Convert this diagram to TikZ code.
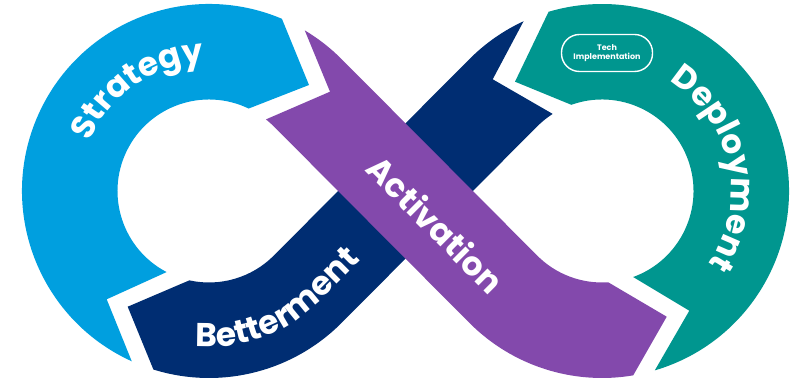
\documentclass[tikz,border=0pt]{standalone}
\usepackage{fontspec}
\setmainfont{Poppins}
\usetikzlibrary{decorations.text}

\definecolor{stratblue}{RGB}{0,159,223}
\definecolor{activpurple}{RGB}{131,73,172}
\definecolor{betternavy}{RGB}{0,45,114}
\definecolor{deploygreen}{RGB}{0,150,143}
\newcommand{\segfont}{\bfseries\fontsize{33}{33}\selectfont}

\begin{document}
\begin{tikzpicture}[x=1pt,y=1pt]
	\tikzset{seglabel/.style = {decorate, decoration={text along path, text align=center, text color=white, text={|\segfont|#1}}}}
	\tikzset{pill/.style = {draw=white, line width=1.4pt, rounded corners=18pt, minimum width=91pt, minimum height=37pt, inner sep=0pt, align=center, text=white, font=\bfseries\fontsize{8}{9.3}\selectfont}}
	
	\useasboundingbox (0,0) rectangle (800,379);
	\coordinate (L) at (209,188);
	\coordinate (R) at (602,188);
	
	% Betterment: top of right loop, down the diagonal, round the bottom of the left loop
	\fill[betternavy] ([shift={(114.8:187)}]R) arc[start angle=114.8, end angle=135, radius=187]
		-- ([shift={(315:91.5)}]L) arc[start angle=315, end angle=257.6, radius=91.5]
		-- (127.7,72.3)
		-- ([shift={(252.7:187)}]L) arc[start angle=252.7, end angle=315, radius=187]
		-- ([shift={(135:91.5)}]R) arc[start angle=135, end angle=122.6, radius=91.5]
		-- (492.7,299.7) -- cycle;
	
	% Strategy: left loop, over the top
	\fill[stratblue] ([shift={(245.6:187)}]L) arc[start angle=245.6, end angle=67.05, radius=187]
		-- (309,294)
		-- ([shift={(64.3:91.5)}]L) arc[start angle=64.3, end angle=242.4, radius=91.5]
		-- (106.7,79.7) -- cycle;
	
	% Deployment: right loop, from the bottom up to the top
	\fill[deploygreen] ([shift={(286.4:187)}]R) arc[start angle=286.4, end angle=466.6, radius=187]
		-- (515,297.3)
		-- ([shift={(109.6:91.5)}]R) arc[start angle=109.6, end angle=-70.1, radius=91.5]
		-- (689.3,68.3) -- cycle;
	
	% Activation: crosses over Betterment
	\fill[activpurple] ([shift={(59.2:187)}]L) arc[start angle=59.2, end angle=45, radius=187]
		-- ([shift={(225:91.5)}]R) arc[start angle=225, end angle=273.9, radius=91.5]
		-- (666.7,62.3)
		-- ([shift={(279.6:187)}]R) arc[start angle=279.6, end angle=225, radius=187]
		-- ([shift={(45:91.5)}]L) arc[start angle=45, end angle=51.5, radius=91.5]
		-- (330,287.3) -- cycle;
	
	% labels
	\path[seglabel=Strategy] ([shift={(175:129)}]L) arc[start angle=175, end angle=75, radius=129];
	\path[seglabel=Deployment] ([shift={(72:129)}]R) arc[start angle=72, end angle=-48, radius=129];
	\path[seglabel=Betterment] ([shift={(240:156)}]L) arc[start angle=240, end angle=315, radius=156] -- ++(45:127);
	\node[rotate=-45, text=white, font=\segfont] (activation) at (436,155) {Activation};
	
	\node[pill] (tech) at (607,326) {Tech\\Implementation};
\end{tikzpicture}
\end{document}
